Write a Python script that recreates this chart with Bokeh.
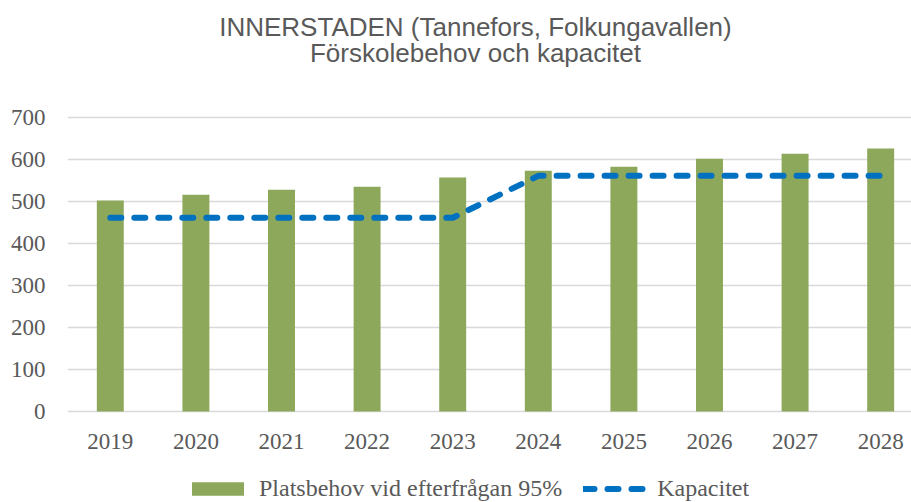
from bokeh.plotting import figure
from bokeh.layouts import column
from bokeh.models import (Range1d, FixedTicker, Label, Legend, LegendItem, ColumnDataSource)
from bokeh.embed import file_html
from bokeh.resources import INLINE

years = ["2019", "2020", "2021", "2022", "2023", "2024", "2025", "2026", "2027", "2028"]
platsbehov = [503, 517, 529, 536, 558, 574, 584, 603, 615, 627]
kapacitet = [462, 462, 462, 462, 462, 562, 562, 562, 562, 562]
y_ticks = [0, 100, 200, 300, 400, 500, 600, 700]
title_lines = ["INNERSTADEN (Tannefors, Folkungavallen)", "Förskolebehov och kapacitet"]
series_names = ["Platsbehov vid efterfrågan 95%", "Kapacitet"]

GREY = "#595959"
GREEN = "#8DA85B"
BLUE = "#0070C0"
SERIF = "Liberation Serif"
SANS = "Liberation Sans"

idx = list(range(len(years)))
src = ColumnDataSource(dict(x=idx, behov=platsbehov, kap=kapacitet))

# frame spans the full height above the x axis; the title sits in its upper part
p = figure(width=911, height=460, output_backend="svg", toolbar_location=None,
           x_range=Range1d(-0.5, 9.36), y_range=Range1d(-4.77, 980.2),
           min_border_left=67, min_border_right=0, min_border_top=0, min_border_bottom=47)
p.outline_line_color = None

bars = p.vbar(x="x", top="behov", bottom=0, width=0.315, source=src,
              fill_color=GREEN, line_color=None)
line = p.line(x="x", y="kap", source=src, line_color=BLUE, line_width=6,
              line_dash="11 13", line_cap="round", line_join="round")

# axes
p.xaxis.ticker = FixedTicker(ticks=idx)
p.xaxis.major_label_overrides = {i: y for i, y in enumerate(years)}
p.yaxis.ticker = FixedTicker(ticks=y_ticks)
for ax in (p.xaxis[0], p.yaxis[0]):
    ax.axis_line_color = None
    ax.major_tick_line_color = None
    ax.minor_tick_line_color = None
    ax.major_tick_in = 0
    ax.major_tick_out = 0
    ax.major_label_text_font = SERIF
    ax.major_label_text_font_size = "23px"
    ax.major_label_text_color = GREY
p.xaxis.major_label_standoff = 20
p.yaxis.major_label_standoff = 22

p.xgrid.grid_line_color = None
p.ygrid.ticker = FixedTicker(ticks=y_ticks)
p.ygrid.grid_line_color = "#D9D9D9"
p.ygrid.grid_line_width = 1.5

# two-line title, each line centred
for txt, ty in zip(title_lines, [918.0, 855.0]):
    p.add_layout(Label(x=4.266, y=ty, text=txt, text_align="center", text_baseline="alphabetic",
                       text_font=SANS, text_font_size="26px", text_color=GREY))

# legend in a separate strip below the chart
lg = figure(width=911, height=42, output_backend="svg", toolbar_location=None,
            x_range=Range1d(-200, -199), y_range=Range1d(-200, -199),
            x_axis_type=None, y_axis_type=None,
            min_border_left=0, min_border_right=0, min_border_top=0, min_border_bottom=0)
lg.outline_line_color = None
lg.xgrid.grid_line_color = None
lg.ygrid.grid_line_color = None
# legend proxies share the chart data; their values lie far outside this strip's ranges
lbar = lg.vbar(x="x", top="behov", bottom="kap", width=0.315, source=src,
               fill_color=GREEN, line_color=None)
lline = lg.line(x="x", y="kap", source=src, line_color=BLUE, line_width=6,
                line_dash="11 13", line_cap="round")

legend = Legend(items=[LegendItem(label=series_names[0], renderers=[lbar]),
                       LegendItem(label=series_names[1], renderers=[lline])],
                orientation="horizontal", location=(118, 0),
                border_line_color=None, background_fill_alpha=0,
                label_text_font=SERIF, label_text_font_size="24px", label_text_color=GREY,
                glyph_width=65, glyph_height=17, spacing=21, label_standoff=9,
                padding=0, margin=0)
lg.add_layout(legend, "center")

open("out.html", "w").write(file_html(column(p, lg, spacing=0), INLINE))
